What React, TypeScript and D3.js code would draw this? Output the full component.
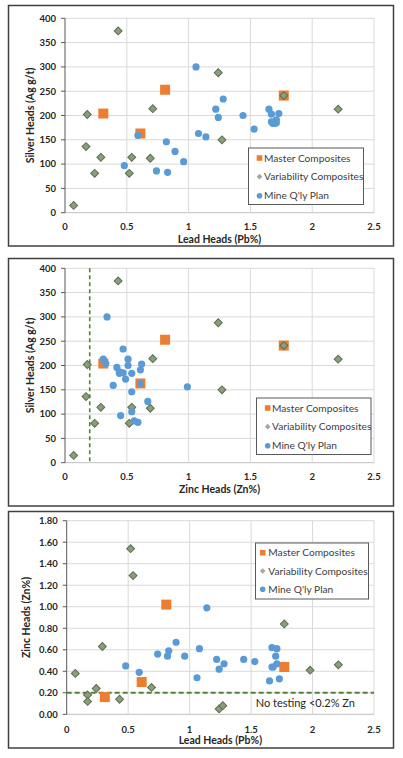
import React from "react";
import * as d3 from "d3";

// ---------- data ----------
const leadTicks = [0, 0.5, 1, 1.5, 2, 2.5];
const silverTicks = [0, 50, 100, 150, 200, 250, 300, 350, 400];
const zincTicks = [0, 0.2, 0.4, 0.6, 0.8, 1.0, 1.2, 1.4, 1.6, 1.8];

const seriesNames = ["Master Composites", "Variability Composites", "Mine Q'ly Plan"];

// Master composites
const masterLead = [0.31, 0.61, 0.81, 1.77];
const masterSilver = [204, 163, 253, 241];
const masterZinc = [0.16, 0.3, 1.02, 0.44];
// panel 2 plots master composites at these x positions
const masterZincAxis2 = [0.31, 0.61, 0.81, 1.77];

// Variability composites (panel 1 & 2)
const varLead1 = [0.07, 0.17, 0.18, 0.24, 0.29, 0.43, 0.52, 0.54, 0.69, 0.71, 1.24, 1.27, 1.77, 2.21];
const varSilver1 = [15, 136, 202, 81, 114, 374, 81, 114, 112, 214, 288, 150, 241, 213];
const varZincAxis2 = [0.07, 0.17, 0.18, 0.24, 0.29, 0.43, 0.52, 0.54, 0.69, 0.71, 1.24, 1.27, 1.77, 2.21];
// Variability composites (panel 3)
const varLead3 = [0.07, 0.17, 0.17, 0.24, 0.29, 0.43, 0.52, 0.54, 0.69, 1.24, 1.27, 1.77, 1.98, 2.21];
const varZinc3 = [0.38, 0.18, 0.12, 0.24, 0.63, 0.14, 1.54, 1.29, 0.25, 0.05, 0.08, 0.84, 0.41, 0.46];

// Mine quarterly plan
const mineLead = [1.06, 1.28, 1.22, 1.24, 1.44, 1.53, 1.08, 1.14, 0.59, 0.82, 0.89, 0.96, 0.48, 0.74, 0.83, 1.67, 1.71, 1.7, 1.71, 1.67, 1.68, 1.65, 1.73];
const mineSilver = [300, 234, 213, 196, 200, 172, 163, 156, 159, 146, 126, 105, 97, 86, 83, 203, 191, 184, 185, 187, 184, 213, 204];
const mineZinc = [0.34, 0.47, 0.51, 0.42, 0.51, 0.49, 0.61, 0.99, 0.39, 0.54, 0.67, 0.54, 0.45, 0.56, 0.59, 0.62, 0.61, 0.54, 0.47, 0.44, 0.44, 0.31, 0.33];

const zincCutoff = 0.2;
const cutoffNote = "No testing <0.2% Zn";

// ---------- styles ----------
const ORANGE = "#ED7D31";
const DIAMOND_FILL = "#8A9E7B";
const DIAMOND_STROKE = "#5C6E50";
const BLUE = "#5B9BD5";
const GRID = "#D9D9D9";
const TXT = "#262626";
const FONT = "Lato, 'Open Sans', sans-serif";
const DASH = "#548235";

type Pt = { x: number; y: number };
const zip = (xs: number[], ys: number[]): Pt[] => xs.map((x, i) => ({ x, y: ys[i] }));

type PanelProps = {
  frame: [number, number, number, number];
  plot: { left: number; right: number; top: number; bottom: number };
  yDomain: [number, number];
  yTicks: number[];
  yFmt: (v: number) => string;
  xTitle: string;
  yTitle: string;
  yTitleX: number;
  tickGap: number;
  titleGap: number;
  master: Pt[];
  variability: Pt[];
  mine: Pt[];
  legend: { x: number; y: number; w: number; h: number; mx: number; tx: number; rows: number[] };
  vline?: number;
  hline?: number;
  note?: { x: number; y: number; text: string };
};

function Panel(p: PanelProps) {
  const x = d3.scaleLinear().domain([0, 2.5]).range([p.plot.left, p.plot.right]);
  const y = d3.scaleLinear().domain(p.yDomain).range([p.plot.bottom, p.plot.top]);
  const [fx, fy, fw, fh] = p.frame;
  const sq = 10;
  const dm = 5.6;
  const r = 3.6;
  const cy = (p.plot.top + p.plot.bottom) / 2;
  const cx = (p.plot.left + p.plot.right) / 2;
  return (
    <g>
      <rect x={fx} y={fy} width={fw} height={fh} fill="#fff" stroke="#404040" strokeWidth={1.5} />
      {/* gridlines */}
      {p.yTicks.map((t) => (
        <line key={"hy" + t} x1={p.plot.left} x2={p.plot.right} y1={y(t)} y2={y(t)} stroke={t === 0 ? "#BFBFBF" : GRID} strokeWidth={1} />
      ))}
      {leadTicks.map((t) =>
        t === 0 ? null : (
          <line key={"vx" + t} x1={x(t)} x2={x(t)} y1={p.plot.top} y2={p.plot.bottom} stroke={GRID} strokeWidth={1} />
        )
      )}
      {/* y axis */}
      <line x1={p.plot.left} x2={p.plot.left} y1={p.plot.top} y2={p.plot.bottom} stroke="#595959" strokeWidth={1} />
      {p.yTicks.map((t) => (
        <line key={"ty" + t} x1={p.plot.left - 4} x2={p.plot.left} y1={y(t)} y2={y(t)} stroke="#595959" strokeWidth={1} />
      ))}
      {p.yTicks.map((t) => (
        <text key={"ly" + t} x={p.plot.left - 9} y={y(t)} dy="0.35em" textAnchor="end" fontFamily={FONT} fontWeight="bold" fontSize={9.5} fill={TXT}>
          {p.yFmt(t)}
        </text>
      ))}
      {leadTicks.map((t) => (
        <text key={"lx" + t} x={x(t)} y={p.plot.bottom + p.tickGap} dy="0.35em" textAnchor="middle" fontFamily={FONT} fontWeight="bold" fontSize={9.5} fill={TXT}>
          {String(t)}
        </text>
      ))}
      <text x={cx} y={p.plot.bottom + p.titleGap} dy="0.35em" textAnchor="middle" fontFamily={FONT} fontWeight="bold" fontSize={10.5} fill={TXT}>
        {p.xTitle}
      </text>
      <text transform={`translate(${p.yTitleX},${cy}) rotate(-90)`} dy="0.35em" textAnchor="middle" fontFamily={FONT} fontWeight="bold" fontSize={10.5} fill={TXT}>
        {p.yTitle}
      </text>
      {/* reference lines */}
      {p.vline !== undefined && (
        <line x1={x(p.vline)} x2={x(p.vline)} y1={p.plot.top} y2={p.plot.bottom} stroke={DASH} strokeWidth={1.6} strokeDasharray="4,3" />
      )}
      {p.hline !== undefined && (
        <line x1={p.plot.left} x2={p.plot.right} y1={y(p.hline)} y2={y(p.hline)} stroke={DASH} strokeWidth={2} strokeDasharray="5,3" />
      )}
      {p.note && (
        <text x={p.note.x} y={p.note.y} dy="0.35em" fontFamily={FONT} fontSize={11} fill={TXT}>
          {p.note.text}
        </text>
      )}
      {/* series */}
      {p.master.map((d, i) => (
        <rect key={"m" + i} x={x(d.x) - sq / 2} y={y(d.y) - sq / 2} width={sq} height={sq} fill={ORANGE} />
      ))}
      {p.variability.map((d, i) => (
        <rect key={"v" + i} x={-dm / 2} y={-dm / 2} width={dm} height={dm} fill={DIAMOND_FILL} stroke={DIAMOND_STROKE} strokeWidth={1}
          transform={`translate(${x(d.x)},${y(d.y)}) rotate(45)`} />
      ))}
      {p.mine.map((d, i) => (
        <circle key={"c" + i} cx={x(d.x)} cy={y(d.y)} r={r} fill={BLUE} />
      ))}
      {/* legend */}
      <rect x={p.legend.x} y={p.legend.y} width={p.legend.w} height={p.legend.h} fill="#fff" stroke="#595959" strokeWidth={1} />
      <rect x={p.legend.mx - 2.8} y={p.legend.rows[0] - 2.8} width={5.6} height={5.6} fill={ORANGE} />
      <rect x={-2} y={-2} width={4} height={4} fill="#A5A5A5" transform={`translate(${p.legend.mx},${p.legend.rows[1]}) rotate(45)`} />
      <circle cx={p.legend.mx} cy={p.legend.rows[2]} r={2.8} fill={BLUE} />
      {seriesNames.map((s, i) => (
        <text key={s} x={p.legend.tx} y={p.legend.rows[i]} dy="0.35em" fontFamily={FONT} fontSize={10.2} fill="#404040">
          {s}
        </text>
      ))}
    </g>
  );
}

export default function App() {
  const fmtInt = (v: number) => String(v);
  const fmt2 = (v: number) => v.toFixed(2);
  return (
    <svg width={403} height={758} style={{ position: "absolute", left: 0, top: 0, background: "#fff" }}>
      <rect x={0} y={0} width={403} height={758} fill="#fff" />
      <Panel
        frame={[8.5, 5.5, 385, 240.5]}
        plot={{ left: 65, right: 374, top: 18.3, bottom: 212.7 }}
        yDomain={[0, 400]}
        yTicks={silverTicks}
        yFmt={fmtInt}
        xTitle="Lead Heads (Pb%)"
        yTitle="Silver Heads (Ag g/t)"
        yTitleX={30}
        tickGap={13.5}
        titleGap={26.5}
        master={zip(masterLead, masterSilver)}
        variability={zip(varLead1, varSilver1)}
        mine={zip(mineLead, mineSilver)}
        legend={{ x: 248.5, y: 148, w: 115, h: 56.5, mx: 259.5, tx: 264, rows: [158, 176.7, 195.7] }}
      />
      <Panel
        frame={[8.5, 258.5, 385, 247.5]}
        plot={{ left: 65, right: 374, top: 268.3, bottom: 462.7 }}
        yDomain={[0, 400]}
        yTicks={silverTicks}
        yFmt={fmtInt}
        xTitle="Zinc Heads (Zn%)"
        yTitle="Silver Heads (Ag g/t)"
        yTitleX={30}
        tickGap={13.5}
        titleGap={26.5}
        master={zip(masterZincAxis2, masterSilver)}
        variability={zip(varZincAxis2, varSilver1)}
        mine={zip(mineZinc, mineSilver)}
        legend={{ x: 256.5, y: 398, w: 114.5, h: 56.5, mx: 267.7, tx: 272, rows: [408, 426.7, 445.7] }}
        vline={zincCutoff}
      />
      <Panel
        frame={[8.5, 511.5, 385, 236.5]}
        plot={{ left: 66.7, right: 374, top: 520.7, bottom: 714.3 }}
        yDomain={[0, 1.8]}
        yTicks={zincTicks}
        yFmt={fmt2}
        xTitle="Lead Heads (Pb%)"
        yTitle="Zinc Heads (Zn%)"
        yTitleX={26}
        tickGap={15.7}
        titleGap={26.5}
        master={zip(masterLead, masterZinc)}
        variability={zip(varLead3, varZinc3)}
        mine={zip(mineLead, mineZinc)}
        legend={{ x: 255.5, y: 543, w: 113, h: 56, mx: 262.7, tx: 268.3, rows: [552.7, 571, 589.3] }}
        hline={zincCutoff}
        note={{ x: 255.7, y: 703, text: cutoffNote }}
      />
    </svg>
  );
}
